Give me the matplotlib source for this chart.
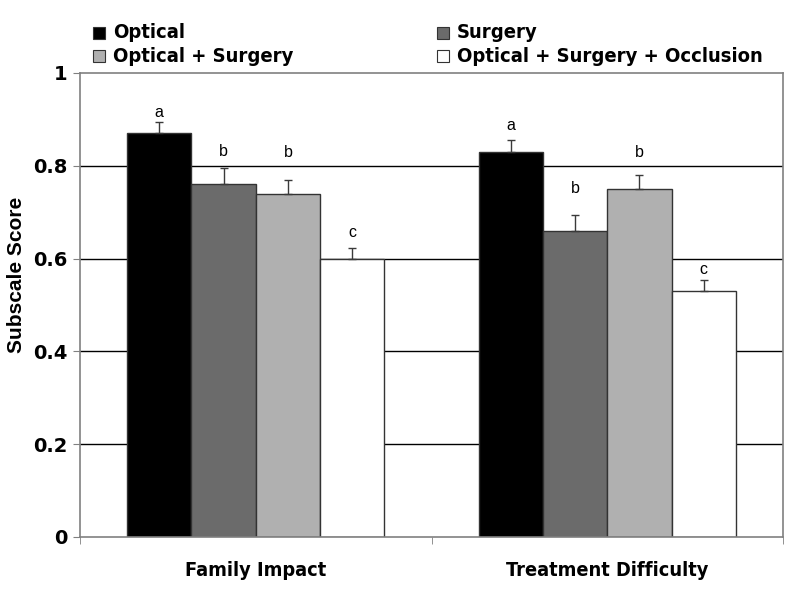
import matplotlib.pyplot as plt
import numpy as np
from matplotlib.patches import Rectangle

categories = ["Family Impact", "Treatment Difficulty"]
series = ["Optical", "Surgery", "Optical + Surgery", "Optical + Surgery + Occlusion"]
colors = ["#000000", "#6b6b6b", "#b0b0b0", "#ffffff"]

# mean subscale score per series, one value per category
means = [
    [0.87, 0.83],
    [0.76, 0.66],
    [0.74, 0.75],
    [0.60, 0.53],
]
# upper error (SE)
errs = [
    [0.024, 0.025],
    [0.035, 0.035],
    [0.030, 0.030],
    [0.023, 0.024],
]
# significance letters and the height they sit at (baseline, data units)
letters = [
    ["a", "a"],
    ["b", "b"],
    ["b", "b"],
    ["c", "c"],
]
letter_y = [
    [0.905, 0.878],
    [0.821, 0.742],
    [0.818, 0.818],
    [0.646, 0.566],
]

fig = plt.figure(figsize=(8, 5.9), dpi=100)
ax = fig.add_axes([80 / 800, 53 / 590, 703 / 800, 464 / 590])

x = np.arange(len(categories))
width = 0.183
offsets = (np.arange(len(series)) - 1.5) * width

# --- grid behind bars ---
for gy in [0.2, 0.4, 0.6, 0.8]:
    ax.axhline(gy, color="black", lw=1, zorder=1)

for i, s in enumerate(series):
    xs = x + offsets[i]
    ax.bar(xs, means[i], width=width, color=colors[i], edgecolor="#333333",
           linewidth=1, zorder=2)
    ax.errorbar(xs, means[i], yerr=[np.zeros(len(x)), errs[i]], fmt="none",
                ecolor="#3a3a3a", elinewidth=1, capsize=2.6, capthick=1, zorder=3)
    for xv, ly, lab in zip(xs, letter_y[i], letters[i]):
        ax.text(xv, ly, lab, ha="center", va="baseline", fontsize=11.5,
                family="Liberation Sans")

ax.set_xlim(-0.5, 1.5)
ax.set_ylim(0, 1)
ax.set_yticks([0, 0.2, 0.4, 0.6, 0.8, 1.0])
ax.set_yticklabels(["0", "0.2", "0.4", "0.6", "0.8", "1"], fontsize=14,
                   fontweight="bold")
ax.set_xticks(x)
ax.set_xticklabels(categories, fontsize=14.3, fontweight="bold", fontstretch="condensed")
ax.set_xticks([-0.5, 0.5, 1.5], minor=True)
ax.tick_params(axis="x", which="major", length=0, pad=17)
ax.tick_params(axis="x", which="minor", length=5, color="#808080")
ax.tick_params(axis="y", length=5, color="#808080", pad=4)
ax.set_ylabel("Subscale Score", fontsize=15, fontweight="bold",
              family="Liberation Sans")
ax.yaxis.set_label_coords(-0.077, 0.565)
for sp in ax.spines.values():
    sp.set_color("#808080")
    sp.set_linewidth(1.2)

# --- legend, two columns at top ---
leg_pos = [(93, 33), (437, 33), (93, 56), (437, 56)]
for (lx, ly), c, s in zip(leg_pos, colors, series):
    fig.patches.append(Rectangle((lx / 800, 1 - (ly + 6) / 590), 12 / 800, 12 / 590,
                                 transform=fig.transFigure, facecolor=c,
                                 edgecolor="#333333", lw=0.8))
    fig.text((lx + 20) / 800, 1 - ly / 590, s, fontsize=14.5, va="center",
             ha="left", fontstretch="condensed", fontweight="bold")

fig.savefig("out.png", dpi=100)
